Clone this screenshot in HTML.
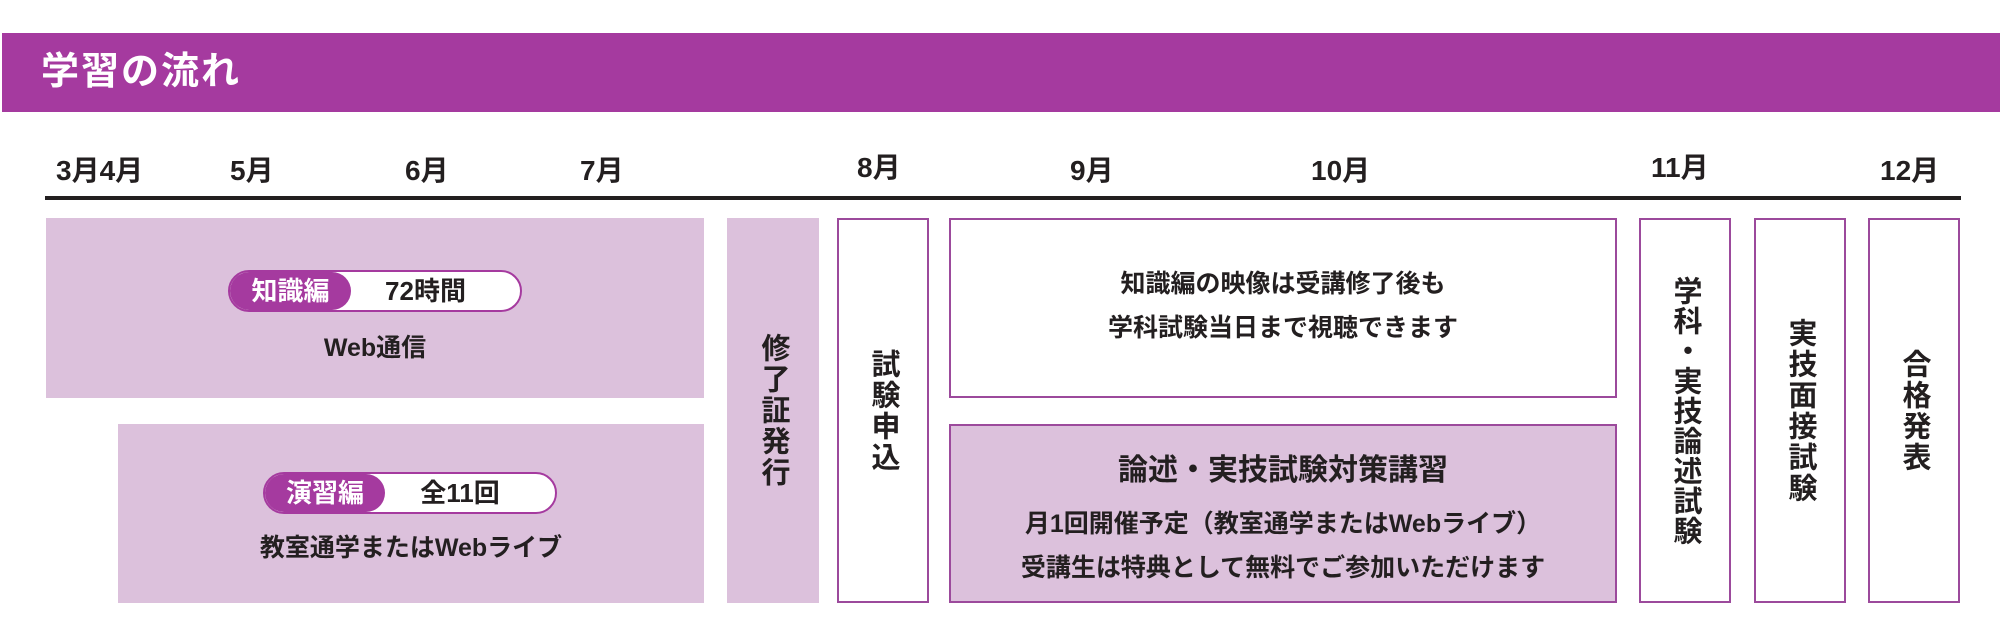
<!DOCTYPE html>
<html><head><meta charset="utf-8"><style>
*{margin:0;padding:0;box-sizing:border-box}
body{width:2000px;height:640px;background:#fff;position:relative;overflow:hidden;font-family:"Liberation Sans","Noto Sans CJK JP",sans-serif;color:#231f20;font-weight:bold}
.a{position:absolute}
.hdr{left:2px;top:33px;width:1998px;height:79px;background:#a53a9f}
.ttl{left:41px;top:46px;font-size:38px;color:#fff;letter-spacing:2px;line-height:52px}
.m{font-size:28px;line-height:30px;top:156px}
.line{left:45px;top:196px;width:1916px;height:4px;background:#231f20}
.pink{background:#dcc1dc}
.wb{background:#fff;border:2px solid #9c4a9c}
.pb{background:#dcc1dc;border:2px solid #9c4a9c}
.c{text-align:center;font-size:25px;line-height:44px}
.v{writing-mode:vertical-rl;text-orientation:upright;font-size:29px;letter-spacing:2px;display:flex;align-items:center;justify-content:center}
.pill{height:42px;border:2px solid #a53a9f;border-radius:21px;background:#fff;overflow:hidden;display:flex;font-size:26px;line-height:38px}
.pill .l{background:#a53a9f;color:#fff;border-radius:0 21px 21px 0;text-align:center}
.pill .r{flex:1;text-align:center;padding-right:30px}
</style></head><body>
<div class="a hdr"></div>
<div class="a ttl">学習の流れ</div>

<div class="a m" style="left:56px">3月4月</div>
<div class="a m" style="left:230px">5月</div>
<div class="a m" style="left:405px">6月</div>
<div class="a m" style="left:580px">7月</div>
<div class="a m" style="left:857px;top:153px">8月</div>
<div class="a m" style="left:1070px">9月</div>
<div class="a m" style="left:1311px">10月</div>
<div class="a m" style="left:1651px;top:153px">11月</div>
<div class="a m" style="left:1880px">12月</div>
<div class="a line"></div>

<div class="a pink" style="left:46px;top:218px;width:658px;height:180px"></div>
<div class="a pill" style="left:228px;top:270px;width:294px"><div class="l" style="width:121px">知識編</div><div class="r" style="padding-right:20px">72時間</div></div>
<div class="a c" style="left:46px;top:326px;width:658px">Web通信</div>

<div class="a pink" style="left:118px;top:424px;width:586px;height:179px"></div>
<div class="a pill" style="left:263px;top:472px;width:294px"><div class="l" style="width:120px">演習編</div><div class="r" style="padding-right:20px">全11回</div></div>
<div class="a c" style="left:118px;top:526px;width:586px">教室通学またはWebライブ</div>

<div class="a pink v" style="left:727px;top:218px;width:92px;height:385px">修了証発行</div>
<div class="a wb v" style="left:837px;top:218px;width:92px;height:385px">試験申込</div>

<div class="a wb" style="left:949px;top:218px;width:668px;height:180px"></div>
<div class="a c" style="left:949px;top:262px;width:668px">知識編の映像は受講修了後も<br>学科試験当日まで視聴できます</div>

<div class="a pb" style="left:949px;top:424px;width:668px;height:179px"></div>
<div class="a" style="left:949px;top:449px;width:668px;text-align:center;font-size:30px;line-height:44px">論述・実技試験対策講習</div>
<div class="a c" style="left:949px;top:502px;width:668px">月1回開催予定（教室通学またはWebライブ）<br>受講生は特典として無料でご参加いただけます</div>

<div class="a wb v" style="left:1639px;top:218px;width:92px;height:385px;letter-spacing:1px">学科・実技論述試験</div>
<div class="a wb v" style="left:1754px;top:218px;width:92px;height:385px">実技面接試験</div>
<div class="a wb v" style="left:1868px;top:218px;width:92px;height:385px">合格発表</div>
</body></html>
